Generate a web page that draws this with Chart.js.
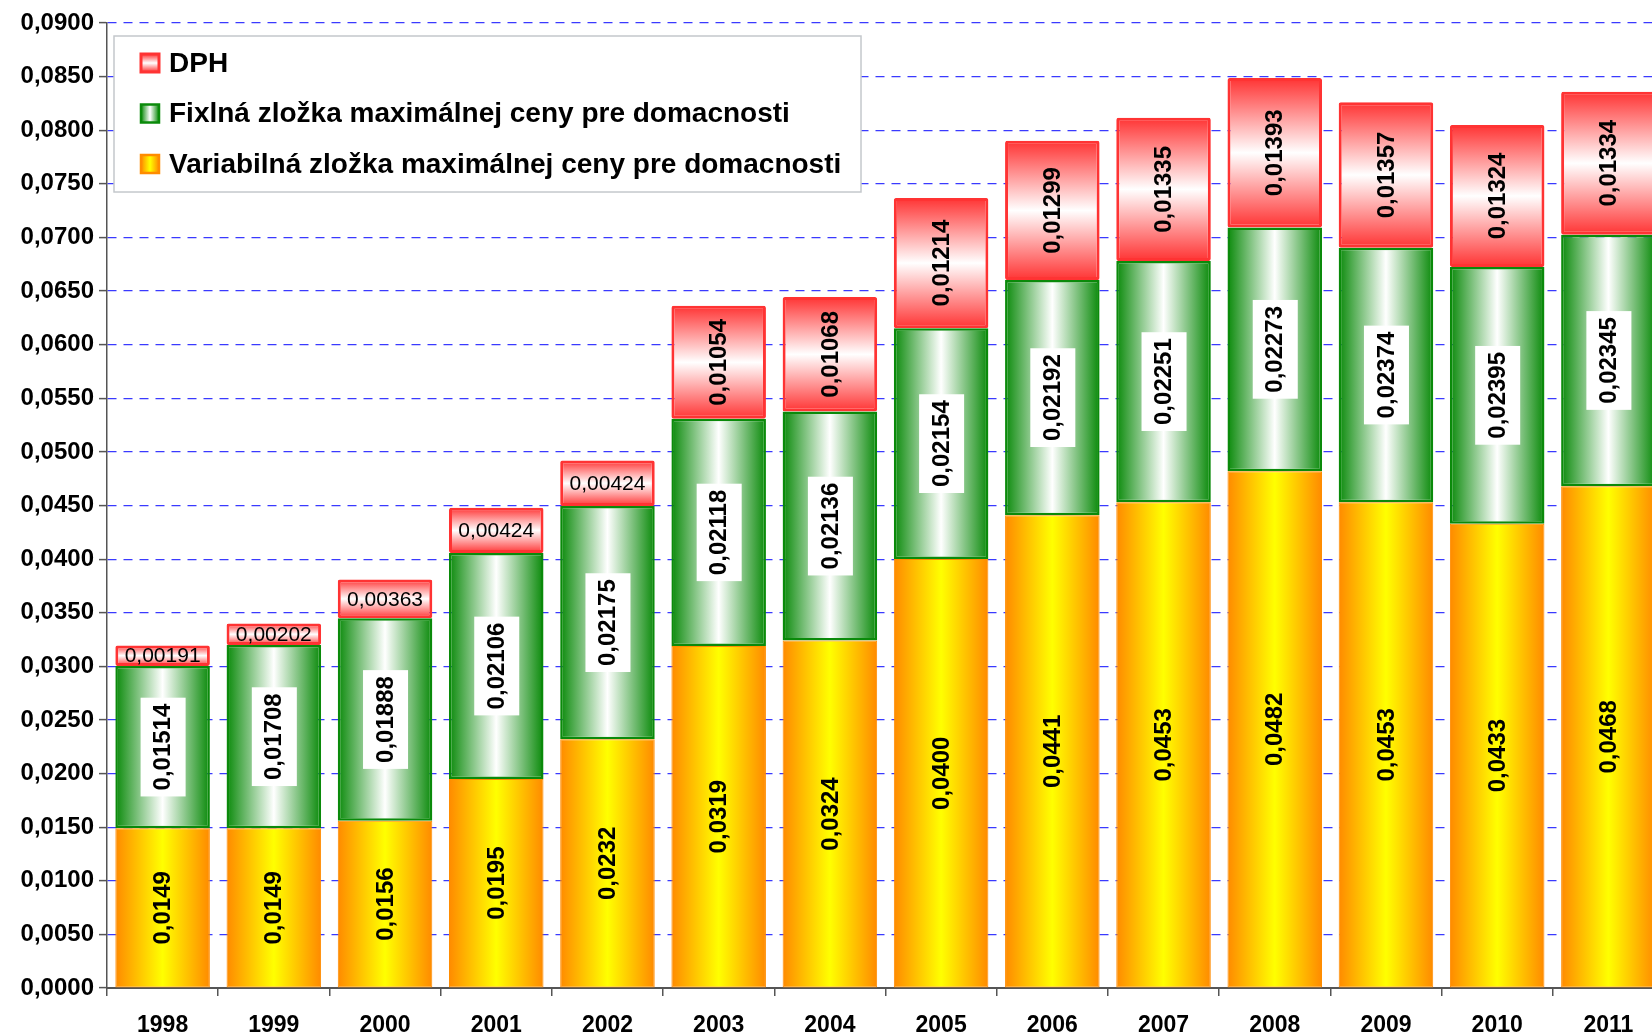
<!DOCTYPE html>
<html>
<head>
<meta charset="utf-8">
<script src="https://cdn.jsdelivr.net/npm/chart.js@4.4.0/dist/chart.umd.min.js"></script>
<style>
  html, body { margin: 0; padding: 0; background: #fff; overflow: hidden; }
  #wrap { width: 1664px; height: 1035px; }
</style>
</head>
<body>
<div id="wrap"><canvas id="chart" width="1664" height="1035"></canvas></div>
<script>
// data
const years = ["1998", "1999", "2000", "2001", "2002", "2003", "2004", "2005", "2006", "2007", "2008", "2009", "2010", "2011"];
const variabilna = [0.0149, 0.0149, 0.0156, 0.0195, 0.0232, 0.0319, 0.0324, 0.0400, 0.0441, 0.0453, 0.0482, 0.0453, 0.0433, 0.0468];
const fixna = [0.01514, 0.01708, 0.01888, 0.02106, 0.02175, 0.02118, 0.02136, 0.02154, 0.02192, 0.02251, 0.02273, 0.02374, 0.02395, 0.02345];
const dph = [0.00191, 0.00202, 0.00363, 0.00424, 0.00424, 0.01054, 0.01068, 0.01214, 0.01299, 0.01335, 0.01393, 0.01357, 0.01324, 0.01334];
const yMin = 0, yMax = 0.09, yStep = 0.005;

const FONT = '"Liberation Sans", Arial, sans-serif';
const BAR_PCT = 0.85;

function fmt(v, d) {
    return v.toFixed(d).replace(".", ",");
}

// pixel box of one stacked segment, from the scales
function segBox(chart, i, lo, hi) {
    const xs = chart.scales.x, ys = chart.scales.y;
    const w = (xs.width / years.length) * BAR_PCT;
    const cx = xs.getPixelForValue(i);
    return { left: cx - w / 2, right: cx + w / 2, top: ys.getPixelForValue(hi), bottom: ys.getPixelForValue(lo) };
}

function stops(g, edge, mid) {
    g.addColorStop(0, edge);
    g.addColorStop(0.5, mid);
    g.addColorStop(1, edge);
    return g;
}

function orangeFill(ctx) {
    const chart = ctx.chart;
    if (!chart.chartArea || ctx.type !== "data") return "#ffc000";
    const i = ctx.dataIndex;
    const b = segBox(chart, i, 0, variabilna[i]);
    return stops(chart.ctx.createLinearGradient(b.left, 0, b.right, 0), "#ff8a00", "#ffff00");
}

function greenFill(ctx) {
    const chart = ctx.chart;
    if (!chart.chartArea || ctx.type !== "data") return "#80c080";
    const i = ctx.dataIndex;
    const b = segBox(chart, i, variabilna[i], variabilna[i] + fixna[i]);
    return stops(chart.ctx.createLinearGradient(b.left, 0, b.right, 0), "#0a8a0a", "#ffffff");
}

function redFill(ctx) {
    const chart = ctx.chart;
    if (!chart.chartArea || ctx.type !== "data") return "#ff8080";
    const i = ctx.dataIndex;
    const lo = variabilna[i] + fixna[i];
    const b = segBox(chart, i, lo, lo + dph[i]);
    return stops(chart.ctx.createLinearGradient(0, b.top, 0, b.bottom), "#ff3333", "#ffffff");
}

// value labels inside the segments
const segmentLabels = {
    id: "segmentLabels",
    afterDatasetsDraw(chart) {
        const c = chart.ctx;
        chart.data.datasets.forEach((ds, di) => {
            const meta = chart.getDatasetMeta(di);
            meta.data.forEach((el, i) => {
                const text = fmt(ds.data[i], ds.decimals);
                const cx = el.x;
                const cy = (el.y + el.base) / 2;
                const h = el.base - el.y;
                c.save();
                c.fillStyle = "#000";
                c.textAlign = "center";
                c.textBaseline = "middle";
                if (ds.labelKind === "dph" && h < 80) {
                    // small VAT segment: horizontal, normal weight
                    c.font = "21px " + FONT;
                    c.fillText(text, cx, cy + 1);
                } else {
                    c.translate(cx, cy);
                    c.rotate(-Math.PI / 2);
                    c.font = "bold 24px " + FONT;
                    if (ds.labelKind === "fix") {
                        const tw = c.measureText(text).width;
                        c.fillStyle = "#fff";
                        c.fillRect(-tw / 2 - 6, -22, tw + 12, 45);
                        c.fillStyle = "#000";
                    }
                    c.fillText(text, 0, 1);
                }
                c.restore();
            });
        });
    },
};

// framed legend inside the plot area, top-left
const boxLegend = {
    id: "boxLegend",
    afterDraw(chart) {
        const c = chart.ctx;
        const area = chart.chartArea;
        const L = area.left + 7, T = area.top + 13, W = 747, H = 156;
        c.save();
        c.fillStyle = "#fff";
        c.fillRect(L, T, W, H);
        c.strokeStyle = "#c4c8cc";
        c.lineWidth = 1.5;
        c.strokeRect(L, T, W, H);

        const items = chart.data.datasets.slice().reverse();
        items.forEach((ds, k) => {
            const yc = T + 27 + k * 50.5;
            const mx = L + 27, ms = 18;
            const top = yc - ms / 2;
            let g;
            if (ds.labelKind === "dph") {
                g = stops(c.createLinearGradient(0, top, 0, top + ms), "#ff3333", "#ffffff");
            } else if (ds.labelKind === "fix") {
                g = stops(c.createLinearGradient(mx, 0, mx + ms, 0), "#0a8a0a", "#ffffff");
            } else {
                g = stops(c.createLinearGradient(mx, 0, mx + ms, 0), "#ff8a00", "#ffff00");
            }
            c.fillStyle = g;
            c.fillRect(mx, top, ms, ms);
            c.strokeStyle = ds.borderColor;
            c.lineWidth = ds.labelKind === "dph" ? 3 : 2.5;
            c.strokeRect(mx, top, ms, ms);

            c.fillStyle = "#000";
            c.font = "bold 28px " + FONT;
            c.textAlign = "left";
            c.textBaseline = "middle";
            c.fillText(ds.label, mx + ms + 10, yc + 1);
        });
        c.restore();
    },
};

new Chart(document.getElementById("chart"), {
    type: "bar",
    data: {
        labels: years,
        datasets: [
            {
                label: "Variabilná zložka maximálnej ceny pre domacnosti",
                data: variabilna,
                backgroundColor: orangeFill,
                borderColor: "#ff8c00",
                borderWidth: 1,
                borderSkipped: false,
                stack: "s",
                labelKind: "var",
                decimals: 4,
            },
            {
                label: "Fixlná zložka maximálnej ceny pre domacnosti",
                data: fixna,
                backgroundColor: greenFill,
                borderColor: "#0a8a0a",
                borderWidth: 2.5,
                borderSkipped: false,
                stack: "s",
                labelKind: "fix",
                decimals: 5,
            },
            {
                label: "DPH",
                data: dph,
                backgroundColor: redFill,
                borderColor: "#ff3333",
                borderWidth: 3,
                borderRadius: 2,
                borderSkipped: false,
                stack: "s",
                labelKind: "dph",
                decimals: 5,
            },
        ],
    },
    options: {
        responsive: false,
        animation: false,
        devicePixelRatio: 1,
        barPercentage: BAR_PCT,
        categoryPercentage: 1,
        layout: { padding: { top: 23, right: 0, bottom: 0, left: 0 } },
        scales: {
            x: {
                stacked: true,
                offset: true,
                afterFit: (s) => { s.height = 47; },
                grid: {
                    offset: true,
                    drawOnChartArea: false,
                    tickLength: 8,
                    tickColor: "#555",
                    lineWidth: 1.5,
                },
                border: { color: "#555", width: 2 },
                ticks: {
                    color: "#000",
                    padding: 16,
                    font: { family: FONT, size: 23, weight: "bold" },
                },
            },
            y: {
                stacked: true,
                min: yMin,
                max: yMax,
                afterFit: (s) => { s.width = 107; },
                grid: {
                    color: "#3a3aff",
                    lineWidth: 1.2,
                    tickLength: 8,
                    tickColor: "#555",
                    tickWidth: 1.5,
                },
                border: { color: "#555", width: 1.5, dash: [9, 7] },
                ticks: {
                    stepSize: yStep,
                    color: "#000",
                    padding: 5,
                    font: { family: FONT, size: 24, weight: "bold" },
                    callback: (v) => fmt(v, 4),
                },
            },
        },
        plugins: {
            legend: { display: false },
            tooltip: { enabled: false },
        },
    },
    plugins: [segmentLabels, boxLegend],
});
</script>
</body>
</html>
